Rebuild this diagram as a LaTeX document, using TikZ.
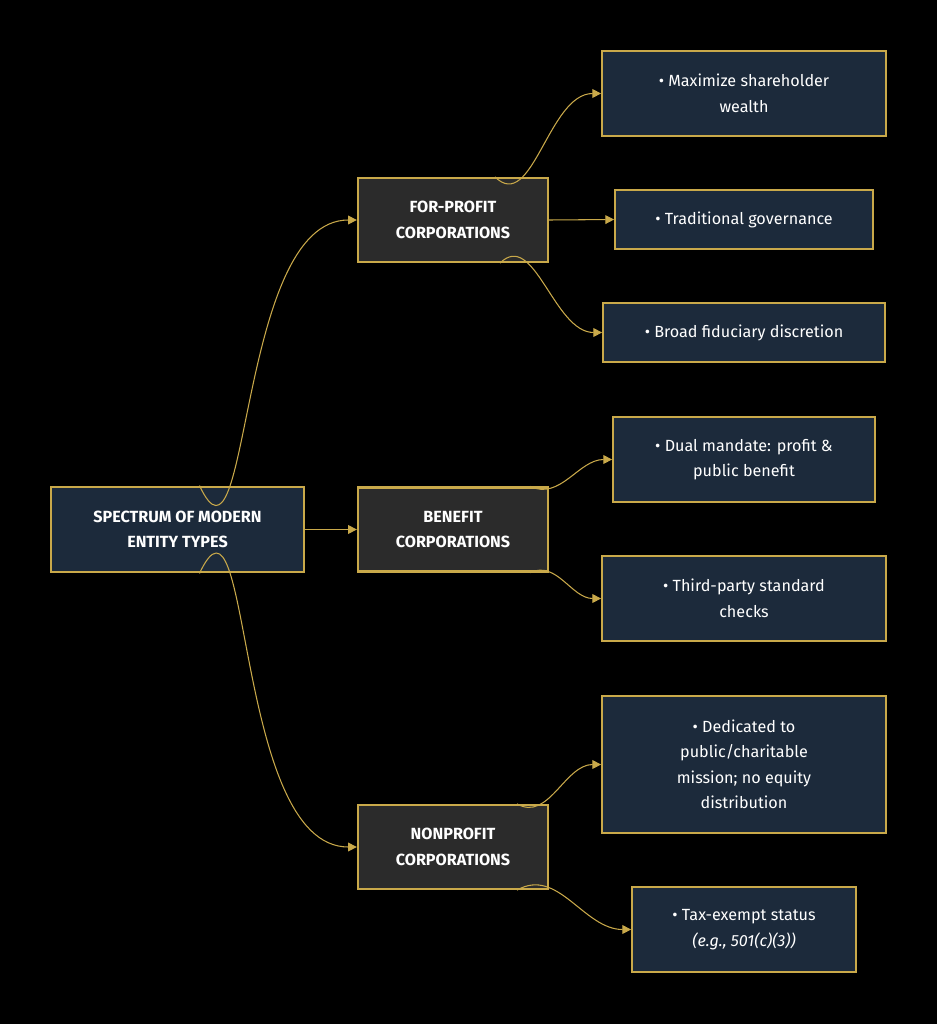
\documentclass[tikz,border=0pt]{standalone}
\usepackage{fontspec}
\setmainfont{Fira Sans}
\usetikzlibrary{arrows.meta}
\definecolor{gold}{HTML}{C9A94A}
\definecolor{navy}{HTML}{1C2A3B}
\definecolor{slate}{HTML}{2B2B2B}
\tikzset{
  box/.style={draw=gold, line width=1pt, fill=navy, text=white, align=center,
    inner sep=0pt, font=\fontsize{9.2}{14.5}\selectfont},
  root/.style={box, line width=1.6pt, font=\bfseries\fontsize{9.2}{14.5}\selectfont},
  group/.style={box, fill=slate, line width=1.3pt, font=\bfseries\fontsize{9.2}{14.5}\selectfont},
  link/.style={draw=gold, line width=0.6pt, -{Triangle[length=5pt,width=5pt]}}
}
\begin{document}
\begin{tikzpicture}[x=0.02cm,y=-0.02cm]
    \fill[black] (0,0) rectangle (937,1024);
    \useasboundingbox (0,0) rectangle (937,1024);

    % main node and groups
    \node[root, minimum width=253*0.02cm, minimum height=85*0.02cm] (spectrum) at (177.5,529.5) {SPECTRUM OF MODERN\\ENTITY TYPES};
    \node[group, minimum width=190*0.02cm, minimum height=84*0.02cm] (forprofit) at (453,220) {FOR-PROFIT\\CORPORATIONS};
    \node[group, minimum width=190*0.02cm, minimum height=84*0.02cm] (benefit) at (453,529.5) {BENEFIT\\CORPORATIONS};
    \node[group, minimum width=190*0.02cm, minimum height=84*0.02cm] (nonprofit) at (453,847) {NONPROFIT\\CORPORATIONS};

    % leaves
    \node[box, minimum width=284*0.02cm, minimum height=85*0.02cm] (wealth) at (744,93.5) {• Maximize shareholder\\wealth};
    \node[box, minimum width=258*0.02cm, minimum height=59*0.02cm] (governance) at (744,219.5) {• Traditional governance};
    \node[box, minimum width=282*0.02cm, minimum height=59*0.02cm] (discretion) at (744,332.5) {• Broad fiduciary discretion};
    \node[box, minimum width=262*0.02cm, minimum height=85*0.02cm] (mandate) at (744,459.5) {• Dual mandate: profit \&\\public benefit};
    \node[box, minimum width=284*0.02cm, minimum height=85*0.02cm] (checks) at (744,598.5) {• Third-party standard\\checks};
    \node[box, minimum width=284*0.02cm, minimum height=137*0.02cm] (mission) at (744,764.5) {• Dedicated to\\public/charitable\\mission; no equity\\distribution};
    \node[box, minimum width=224*0.02cm, minimum height=85*0.02cm] (taxexempt) at (744,929.5) {• Tax-exempt status\\\textit{(e.g., 501(c)(3))}};

    % connectors
    \draw[link] ([xshift=0.44cm]spectrum.north) to[out=-65,in=180] (forprofit.west);
    \draw[link] (spectrum.east) -- (benefit.west);
    \draw[link] ([xshift=0.44cm]spectrum.south) to[out=65,in=180] (nonprofit.west);

    \draw[link] ([xshift=0.84cm]forprofit.north) to[out=-45,in=180] (wealth.west);
    \draw[link] (forprofit.east) -- (governance.west);
    \draw[link] ([xshift=0.94cm]forprofit.south) to[out=45,in=180] (discretion.west);

    \draw[link] ([xshift=1.54cm]benefit.north) to[out=-25,in=180] (mandate.west);
    \draw[link] ([xshift=1.54cm]benefit.south) to[out=25,in=180] (checks.west);

    \draw[link] ([xshift=1.28cm]nonprofit.north) to[out=-30,in=180] (mission.west);
    \draw[link] ([xshift=1.28cm]nonprofit.south) to[out=30,in=180] (taxexempt.west);
\end{tikzpicture}
\end{document}
